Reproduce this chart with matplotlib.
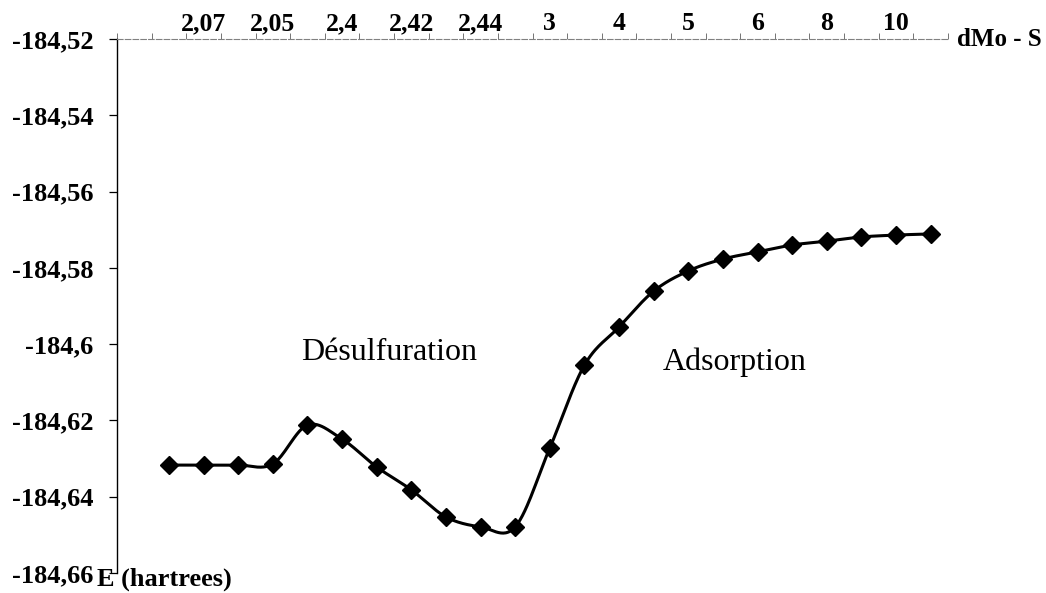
import numpy as np
import matplotlib
matplotlib.use("Agg")
import matplotlib.pyplot as plt
from matplotlib.ticker import FixedLocator

# energy along the Mo-S distance scan (hartrees)
energy = [-184.6317, -184.6317, -184.6317, -184.6314, -184.6212, -184.6249,
          -184.6322, -184.6382, -184.6453, -184.6479, -184.6479, -184.6272,
          -184.6055, -184.5955, -184.5861, -184.5808, -184.5777, -184.5758,
          -184.5740, -184.5730, -184.5719, -184.5714, -184.5711]
# every other category carries a label
label_pos = [1, 3, 5, 7, 9, 11, 13, 15, 17, 19, 21]
label_txt = ["2,07", "2,05", "2,4", "2,42", "2,44", "3", "4", "5", "6", "8", "10"]
y_ticks = [-184.66, -184.64, -184.62, -184.60, -184.58, -184.56, -184.54, -184.52]


def smooth(x, y, n=30):
    # Catmull-Rom style bezier through all points (like spreadsheet "smoothed line")
    x = np.asarray(x, float)
    y = np.asarray(y, float)
    px = np.concatenate([[x[0]], x, [x[-1]]])
    py = np.concatenate([[y[0]], y, [y[-1]]])
    xs, ys = [], []
    t = np.linspace(0, 1, n)
    for i in range(1, len(px) - 2):
        p0 = np.array([px[i], py[i]])
        p3 = np.array([px[i + 1], py[i + 1]])
        b1 = p0 + (p3 - np.array([px[i - 1], py[i - 1]])) / 6
        b2 = p3 - (np.array([px[i + 2], py[i + 2]]) - p0) / 6
        pts = (((1 - t) ** 3)[:, None] * p0 + (3 * (1 - t) ** 2 * t)[:, None] * b1
               + (3 * (1 - t) * t ** 2)[:, None] * b2 + (t ** 3)[:, None] * p3)
        xs.extend(pts[:, 0])
        ys.extend(pts[:, 1])
    return np.array(xs), np.array(ys)


plt.rcParams["font.family"] = ["Liberation Serif", "DejaVu Serif"]

fig = plt.figure(figsize=(10.46, 5.93), dpi=100)
ax = fig.add_axes([0.1119, 0.0337, 0.7944, 0.9005])

x = np.arange(len(energy))
# the smooth curve is computed in display-like units so the y scale doesn't distort it
ymin, ymax = -184.66, -184.52
sx, sy = smooth(x, (np.array(energy) - ymin) / (ymax - ymin) * 15.4)
ax.plot(sx, sy / 15.4 * (ymax - ymin) + ymin, color="black", lw=2.2, zorder=2)
ax.plot(x, energy, linestyle="none", marker="D", ms=8.8, color="black", zorder=3)

ax.set_xlim(-1.5, 22.5)
ax.set_ylim(ymin, ymax)

# category axis on top
ax.xaxis.tick_top()
ax.xaxis.set_major_locator(FixedLocator(label_pos))
ax.set_xticklabels(label_txt, fontsize=18.5, fontweight="bold")
ax.xaxis.set_minor_locator(FixedLocator(np.arange(-1.5, 23, 1.0)))
ax.tick_params(axis="x", which="major", length=0, pad=3)
ax.tick_params(axis="x", which="minor", length=4, width=0.7, color="0.45",
               direction="out", top=True, bottom=False)

ax.yaxis.set_major_locator(FixedLocator(y_ticks))
ax.set_yticklabels([f"{v:g}".replace(".", ",") for v in y_ticks],
                   fontsize=19, fontweight="bold")
ax.tick_params(axis="y", which="major", length=6, width=0.9, pad=11, direction="out")

for s in ("right", "bottom"):
    ax.spines[s].set_visible(False)
ax.spines["left"].set_linewidth(1.0)
ax.spines["top"].set_color("0.5")
ax.spines["top"].set_linewidth(0.8)
ax.spines["top"].set_linestyle((0, (5, 2)))

fig.text(0.915, 0.934, "dMo - S", fontsize=18, fontweight="bold",
         ha="left", va="center")
fig.text(0.0927, 0.003, "E (hartrees)", fontsize=19, fontweight="bold",
         ha="left", va="bottom")

ax.text(6.37, -184.6021, "Désulfuration", fontsize=23, ha="center", va="center")
ax.text(16.35, -184.6047, "Adsorption", fontsize=23, ha="center", va="center")

fig.savefig("out.png", dpi=100, facecolor="white")
